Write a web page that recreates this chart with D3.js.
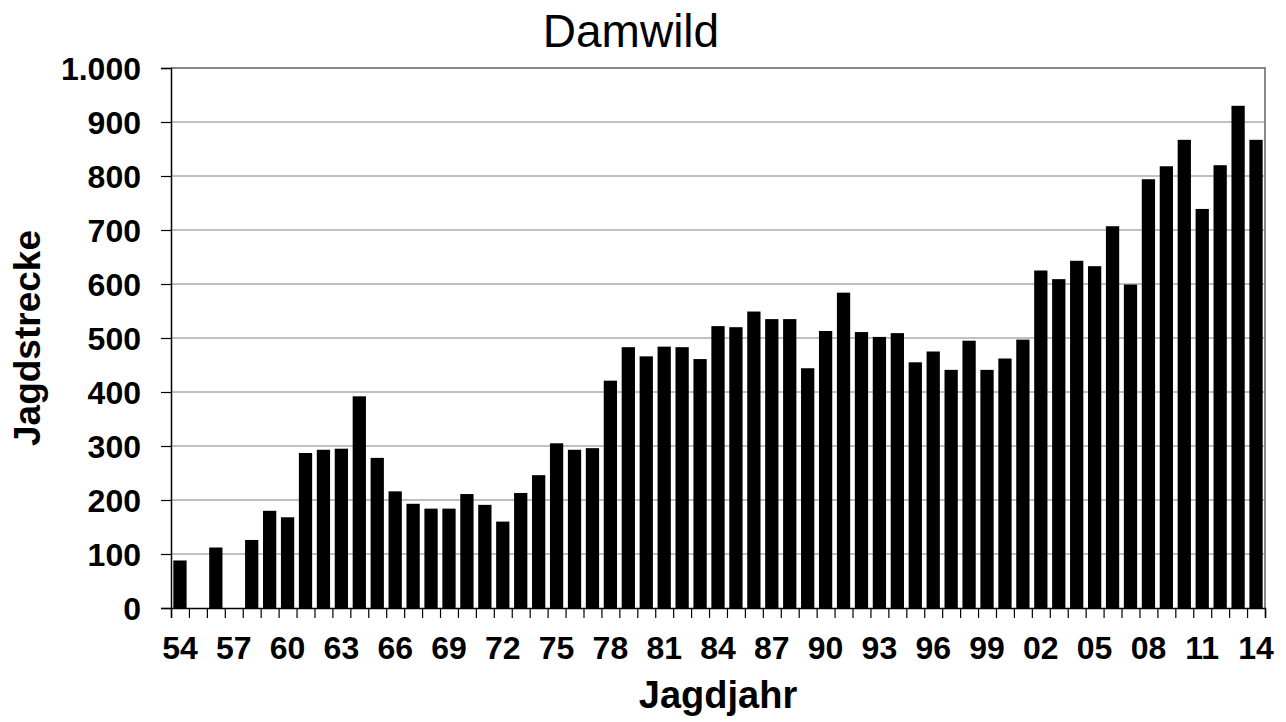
<!DOCTYPE html>
<html>
<head>
<meta charset="utf-8">
<script src="https://cdn.jsdelivr.net/npm/d3@7"></script>
<style>
  html, body { margin: 0; padding: 0; background: #fff; }
  svg { display: block; font-family: "Liberation Sans", Arial, sans-serif; }
</style>
</head>
<body>
<svg id="chart" width="1286" height="722"></svg>
<script>
const title = "Damwild";
const yTitle = "Jagdstrecke";
const xTitle = "Jagdjahr";
const years = d3.range(1954, 2015);
const values = [
  88, 0, 112, 0, 126, 180, 168, 287, 293, 295,
  392, 278, 216, 193, 184, 184, 211, 191, 160, 213,
  246, 305, 293, 296, 421, 483, 466, 484, 483, 461,
  522, 520, 549, 535, 535, 444, 513, 584, 511, 502,
  509, 455, 475, 441, 495, 441, 462, 497, 625, 609,
  643, 633, 707, 599, 794, 818, 867, 739, 820, 930,
  867
];
const yTicks = [0, 100, 200, 300, 400, 500, 600, 700, 800, 900, 1000];
const xLabelYears = years.filter((y, i) => i % 3 === 0);

const svg = d3.select("#chart");
const L = 171, R = 1265, T = 68, B = 608;

const x = d3.scaleBand().domain(years).range([L, R]).paddingInner(0.26).paddingOuter(0.13);
const xb = d3.scaleLinear().domain([0, years.length]).range([L, R]);
const y = d3.scaleLinear().domain([0, 1000]).range([B, T]);

const de = d3.formatLocale({decimal: ",", thousands: ".", grouping: [3], currency: ["", "€"]});
const fmt = de.format(",d");

// gridlines
svg.append("g").selectAll("line").data(yTicks.filter(t => t > 0 && t < 1000)).join("line")
  .attr("x1", L).attr("x2", R).attr("y1", d => y(d)).attr("y2", d => y(d))
  .attr("stroke", "#c0c0c0").attr("stroke-width", 2);

// plot border top/right
svg.append("path")
  .attr("d", `M${L},${y(1000)}H${R}V${B}`)
  .attr("fill", "none").attr("stroke", "#888").attr("stroke-width", 2);

// bars
svg.append("g").selectAll("rect").data(years).join("rect")
  .attr("x", d => x(d)).attr("width", x.bandwidth())
  .attr("y", (d, i) => y(values[i])).attr("height", (d, i) => B - y(values[i]))
  .attr("fill", "#000");

// y axis
const yAxis = svg.append("g").attr("transform", `translate(${L},0)`)
  .call(d3.axisLeft(y).tickValues(yTicks).tickFormat(fmt).tickSize(10).tickPadding(20));
yAxis.select(".domain").attr("stroke", "#000").attr("stroke-width", 1.5);
yAxis.selectAll(".tick line").attr("stroke", "#000").attr("stroke-width", 1.2);
yAxis.selectAll("text").attr("font-size", 32).attr("font-weight", "bold").attr("fill", "#000")
  .attr("font-family", "Liberation Sans, Arial, sans-serif").attr("dy", "0.36em");

// x axis boundary ticks
const xAxisTicks = svg.append("g").attr("transform", `translate(0,${B})`)
  .call(d3.axisBottom(xb).tickValues(d3.range(0, years.length + 1)).tickFormat("").tickSize(10));
xAxisTicks.select(".domain").attr("stroke", "#000").attr("stroke-width", 1.5);
xAxisTicks.selectAll(".tick line").attr("stroke", "#000").attr("stroke-width", 1.2);

// x labels
const xLabels = svg.append("g").attr("transform", `translate(0,${B})`)
  .call(d3.axisBottom(x).tickValues(xLabelYears).tickFormat(d => String(d).slice(2)).tickSize(0).tickPadding(0));
xLabels.select(".domain").remove();
xLabels.selectAll("text").attr("font-size", 32).attr("font-weight", "bold").attr("fill", "#000")
  .attr("font-family", "Liberation Sans, Arial, sans-serif").attr("y", 51).attr("dy", 0);

// title
svg.append("text").attr("x", 631).attr("y", 47).attr("text-anchor", "middle")
  .attr("font-size", 46).attr("fill", "#000").text(title);

// axis titles
svg.append("text").attr("x", (L + R) / 2).attr("y", 708).attr("text-anchor", "middle")
  .attr("font-size", 38).attr("font-weight", "bold").attr("fill", "#000").text(xTitle);
svg.append("text").attr("transform", `translate(40,${(T + B) / 2}) rotate(-90)`).attr("text-anchor", "middle")
  .attr("font-size", 37).attr("font-weight", "bold").attr("fill", "#000").text(yTitle);
</script>
</body>
</html>
